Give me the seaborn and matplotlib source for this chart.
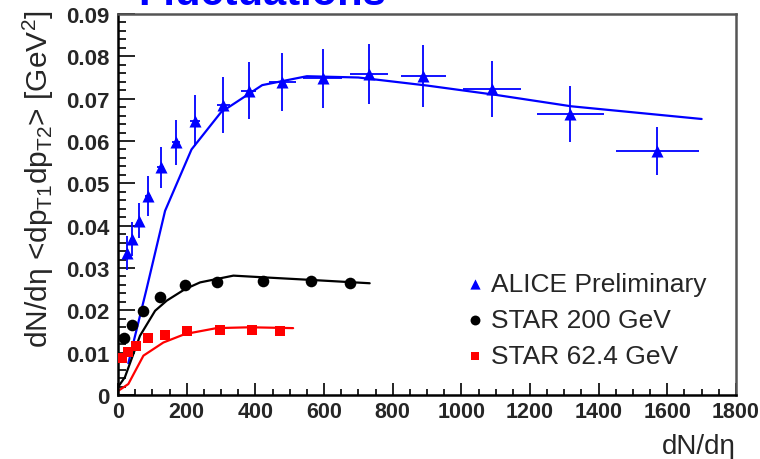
import matplotlib
matplotlib.use("Agg")
import matplotlib.pyplot as plt
import seaborn as sns
from matplotlib.ticker import MultipleLocator

# ALICE preliminary points (dN/deta, value, errors)
alice_x = [26, 41, 61, 88, 124, 169, 224, 306, 381, 479, 596, 731, 889, 1090, 1317, 1571]
alice_y = [0.0335, 0.0369, 0.0412, 0.0471, 0.0538, 0.0597, 0.0648, 0.0685, 0.0719,
           0.0740, 0.0748, 0.0758, 0.0754, 0.0722, 0.0664, 0.0577]
alice_yerr = [0.0040, 0.0040, 0.0042, 0.0047, 0.0049, 0.0053, 0.0060, 0.0066, 0.0067,
              0.0068, 0.0070, 0.0071, 0.0073, 0.0066, 0.0067, 0.0057]
alice_xerr = [4, 5, 6, 8, 10, 12, 15, 19, 22, 39, 56, 55, 65, 85, 98, 120]

# model curve through ALICE
alice_fit_x = [30, 83, 137, 214, 300, 420, 550, 700, 900, 1100, 1320, 1700]
alice_fit_y = [0.0075, 0.025, 0.0435, 0.058, 0.0668, 0.0732, 0.0753, 0.0750,
               0.0731, 0.0709, 0.0682, 0.0652]

# STAR 200 GeV
star200_x = [17, 40, 72, 122, 195, 289, 423, 561, 677]
star200_y = [0.0135, 0.0166, 0.0199, 0.0232, 0.0260, 0.0268, 0.0270, 0.0269, 0.0265]
star200_fit_x = [1, 20, 64, 108, 142, 195, 239, 336, 423, 559, 733]
star200_fit_y = [0.0020, 0.0042, 0.0140, 0.0199, 0.0223, 0.0250, 0.0266, 0.0282,
                 0.0278, 0.0272, 0.0264]

# STAR 62.4 GeV
star62_x = [12, 28, 52, 86, 137, 202, 297, 391, 471]
star62_y = [0.0088, 0.0102, 0.0115, 0.0135, 0.0142, 0.0152, 0.0154, 0.0154, 0.0152]
star62_fit_x = [1, 30, 74, 132, 195, 287, 384, 510]
star62_fit_y = [0.0010, 0.0026, 0.0093, 0.0124, 0.0144, 0.0158, 0.0160, 0.0158]

x_ticks = [0, 200, 400, 600, 800, 1000, 1200, 1400, 1600, 1800]
x_labels = ["0", "200", "400", "600", "800", "1000", "1200", "1400", "1600", "1800"]
y_ticks = [0, 0.01, 0.02, 0.03, 0.04, 0.05, 0.06, 0.07, 0.08, 0.09]
y_labels = ["0", "0.01", "0.02", "0.03", "0.04", "0.05", "0.06", "0.07", "0.08", "0.09"]

BLUE = "#0000ff"
RED = "#ff0000"

sns.set_theme(style="ticks")
plt.rcParams['font.family'] = ['Liberation Sans', 'DejaVu Sans']
plt.rcParams['mathtext.fontset'] = 'custom'
plt.rcParams['mathtext.rm'] = 'Liberation Sans'
plt.rcParams['mathtext.it'] = 'Liberation Sans:italic'

fig = plt.figure(figsize=(7.6, 4.6), dpi=100)
ax = fig.add_axes([0.1553, 0.1391, 0.8131, 0.8283])

# model curves
sns.lineplot(x=alice_fit_x, y=alice_fit_y, color=BLUE, lw=1.6, sort=False, estimator=None, ax=ax)
sns.lineplot(x=star200_fit_x, y=star200_fit_y, color="black", lw=1.6, sort=False, estimator=None, ax=ax)
sns.lineplot(x=star62_fit_x, y=star62_fit_y, color=RED, lw=1.6, sort=False, estimator=None, ax=ax)

# data
ax.errorbar(alice_x, alice_y, xerr=alice_xerr, yerr=alice_yerr, fmt='none',
            ecolor=BLUE, elinewidth=1.3, capsize=0, zorder=3)
sns.scatterplot(x=alice_x, y=alice_y, marker='^', s=75, color=BLUE, linewidth=0,
                ax=ax, label="ALICE Preliminary", zorder=4)
sns.scatterplot(x=star200_x, y=star200_y, marker='o', s=70, color="black", linewidth=0,
                ax=ax, label="STAR 200 GeV", zorder=4)
sns.scatterplot(x=star62_x, y=star62_y, marker='s', s=58, color=RED, linewidth=0,
                ax=ax, label="STAR 62.4 GeV", zorder=4)

ax.set_xlim(0, 1800)
ax.set_ylim(0, 0.09)
ax.set_xticks(x_ticks, x_labels, fontweight='bold', fontsize=15.5)
ax.set_yticks(y_ticks, y_labels, fontweight='bold', fontsize=16)
ax.xaxis.set_minor_locator(MultipleLocator(50))
ax.yaxis.set_minor_locator(MultipleLocator(0.002))
ax.tick_params(axis='x', which='major', direction='in', length=8.5, width=1.2, pad=4, color='black')
ax.tick_params(axis='x', which='minor', direction='in', length=4.3, width=1.2, color='black')
ax.tick_params(axis='y', which='major', direction='in', length=12, width=1.2, pad=6, color='black')
ax.tick_params(axis='y', which='minor', direction='in', length=6, width=1.2, color='black')
ax.set_xlabel("")
ax.set_ylabel("")

for side in ['left', 'bottom']:
    ax.spines[side].set_color('black')
    ax.spines[side].set_linewidth(1.8)
for side in ['top', 'right']:
    ax.spines[side].set_visible(True)
    ax.spines[side].set_color('#555555')
    ax.spines[side].set_linewidth(1.8)

ax.legend(loc='upper left', bbox_to_anchor=(0.565, 0.322), frameon=False, fontsize=19,
          handletextpad=0.3, handlelength=0.6, labelspacing=0.45, markerscale=0.85,
          borderaxespad=0, borderpad=0)

fig.text(38 / 760, 1 - 10 / 460,
         r"dN/dη <dp$_{\mathrm{T1}}$dp$_{\mathrm{T2}}$> [GeV$^{\mathrm{2}}$]",
         rotation=90, ha='center', va='top', fontsize=21.5)
fig.text(736 / 760, 1 - 447 / 460, "dN/dη", ha='right', va='center', fontsize=20)
fig.text(138 / 760, 1 - 5 / 460, "Fluctuations", ha='left', va='baseline',
         fontsize=30, fontweight='bold', color=BLUE)

fig.savefig("out.png", dpi=100)
